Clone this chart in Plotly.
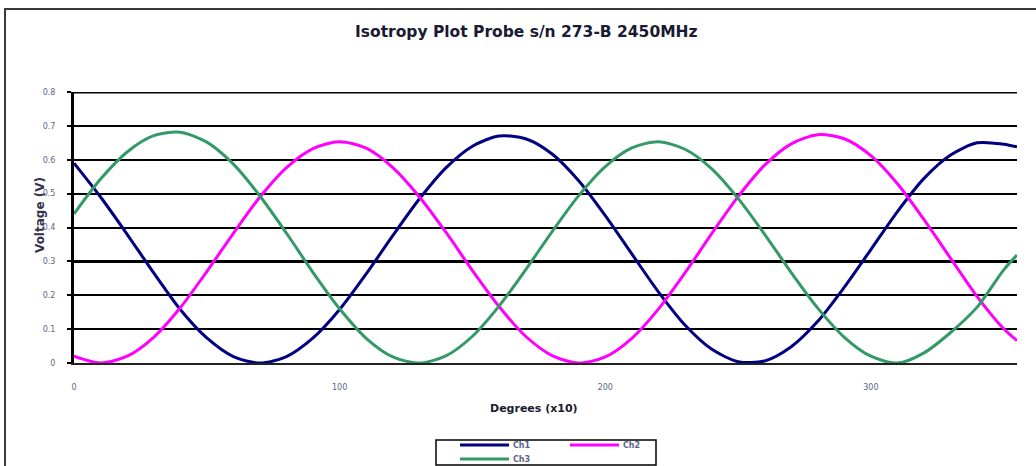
import plotly.graph_objects as go

# Probe rotation angle (degrees) and the three channel readings
degrees = [0, 10, 20, 30, 40, 50, 60, 70, 80, 90, 100, 110, 120, 130, 140, 150, 160, 170,
           180, 190, 200, 210, 220, 230, 240, 250, 260, 270, 280, 290, 300, 310, 320, 330,
           340, 350, 355]

ch1 = [0.590, 0.490, 0.380, 0.266, 0.158, 0.074, 0.019, 0.000, 0.019, 0.074, 0.158, 0.263,
       0.376, 0.484, 0.576, 0.640, 0.670, 0.662, 0.617, 0.538, 0.435, 0.322, 0.210, 0.112,
       0.041, 0.004, 0.006, 0.048, 0.123, 0.224, 0.335, 0.447, 0.545, 0.614, 0.650, 0.646,
       0.638]

ch2 = [0.020, 0.000, 0.020, 0.076, 0.163, 0.270, 0.383, 0.490, 0.577, 0.633, 0.653, 0.634,
       0.577, 0.491, 0.386, 0.273, 0.167, 0.079, 0.022, 0.000, 0.018, 0.073, 0.159, 0.266,
       0.381, 0.491, 0.584, 0.647, 0.674, 0.662, 0.612, 0.529, 0.423, 0.309, 0.196, 0.101,
       0.066]

ch3 = [0.440, 0.543, 0.623, 0.671, 0.681, 0.652, 0.587, 0.493, 0.383, 0.267, 0.160, 0.073,
       0.018, 0.000, 0.021, 0.079, 0.168, 0.275, 0.388, 0.494, 0.580, 0.635, 0.653, 0.631,
       0.574, 0.486, 0.380, 0.267, 0.162, 0.076, 0.020, 0.000, 0.030, 0.090, 0.165, 0.275,
       0.319]

series = [("Ch1", ch1, "#000080"), ("Ch2", ch2, "#FF00FF"), ("Ch3", ch3, "#339966")]

y_ticks = [0, 0.1, 0.2, 0.3, 0.4, 0.5, 0.6, 0.7, 0.8]
y_tick_text = ["0", "0.1", "0.2", "0.3", "0.4", "0.5", "0.6", "0.7", "0.8"]
x_ticks = [0, 100, 200, 300]

W, H = 1036, 466
ML, MR, MT, MB = 74, 19, 92, 103
PW, PH = W - ML - MR, H - MT - MB


def px(x):
    return (x - ML) / PW


def py(y):
    return (H - MB - y) / PH


FONT = "DejaVu Sans, Verdana, sans-serif"
TICK_COLOR = "#5a6488"

fig = go.Figure()
for name, vals, color in series:
    fig.add_trace(go.Scatter(
        x=degrees, y=vals, name=name, mode="lines",
        line=dict(color=color, width=3, shape="spline", smoothing=0.8),
        showlegend=False, cliponaxis=True,
    ))

shapes = []
# heavier rules at 0.3 and at the top of the value axis
for yv in (0.3, 0.8):
    shapes.append(dict(type="line", xref="paper", yref="y", x0=0, x1=1, y0=yv, y1=yv,
                       line=dict(color="black", width=3), layer="below"))
# outer chart frame
shapes.append(dict(type="rect", xref="paper", yref="paper",
                   x0=px(5), x1=px(1045), y0=py(475), y1=py(9),
                   line=dict(color="#3a3a3a", width=2)))
# legend box
shapes.append(dict(type="rect", xref="paper", yref="paper",
                   x0=px(436), x1=px(656), y0=py(465), y1=py(440),
                   line=dict(color="black", width=1.5), fillcolor="white"))

annotations = [
    dict(text="<b>Isotropy Plot Probe s/n 273-B 2450MHz</b>", xref="paper", yref="paper",
         x=px(526), y=py(32), showarrow=False, font=dict(family=FONT, size=15.5, color="#1a1a33"),
         xanchor="center", yanchor="middle"),
    dict(text="<b>Degrees (x10)</b>", xref="paper", yref="paper",
         x=px(534), y=py(408), showarrow=False, font=dict(family=FONT, size=11, color="#1a1a33"),
         xanchor="center", yanchor="middle"),
    dict(text="<b>Voltage (V)</b>", xref="paper", yref="paper", textangle=-90,
         x=px(40), y=py(215), showarrow=False, font=dict(family=FONT, size=12, color="#33334d"),
         xanchor="center", yanchor="middle"),
]

# legend entries
legend_rows = [("Ch1", "#000080", 460, 445), ("Ch2", "#FF00FF", 570, 445), ("Ch3", "#339966", 460, 459)]
for name, color, lx, ly in legend_rows:
    shapes.append(dict(type="line", xref="paper", yref="paper",
                       x0=px(lx), x1=px(lx + 49), y0=py(ly), y1=py(ly),
                       line=dict(color=color, width=3)))
    annotations.append(dict(text="<b>" + name + "</b>", xref="paper", yref="paper", x=px(lx + 51), y=py(ly),
                            showarrow=False, xanchor="left", yanchor="middle",
                            font=dict(family=FONT, size=8, color=TICK_COLOR)))

fig.update_layout(
    width=W, height=H,
    margin=dict(l=ML, r=MR, t=MT, b=MB, pad=0),
    paper_bgcolor="white", plot_bgcolor="white",
    showlegend=False,
    shapes=shapes, annotations=annotations,
    xaxis=dict(range=[0, 355], tickvals=x_ticks, ticks="", showgrid=False, zeroline=False,
               showline=True, linecolor="#222222", linewidth=1.5,
               tickfont=dict(family=FONT, size=8, color=TICK_COLOR), ticklabelstandoff=16),
    yaxis=dict(range=[0, 0.8], tickvals=y_ticks, ticktext=y_tick_text, ticks="outside",
               ticklen=4, tickwidth=1.5, tickcolor="black",
               showgrid=True, gridcolor="black", gridwidth=1.5, zeroline=False,
               showline=True, linecolor="black", linewidth=3,
               tickfont=dict(family=FONT, size=8, color=TICK_COLOR), ticklabelstandoff=10),
)

fig.write_html("out.html")
